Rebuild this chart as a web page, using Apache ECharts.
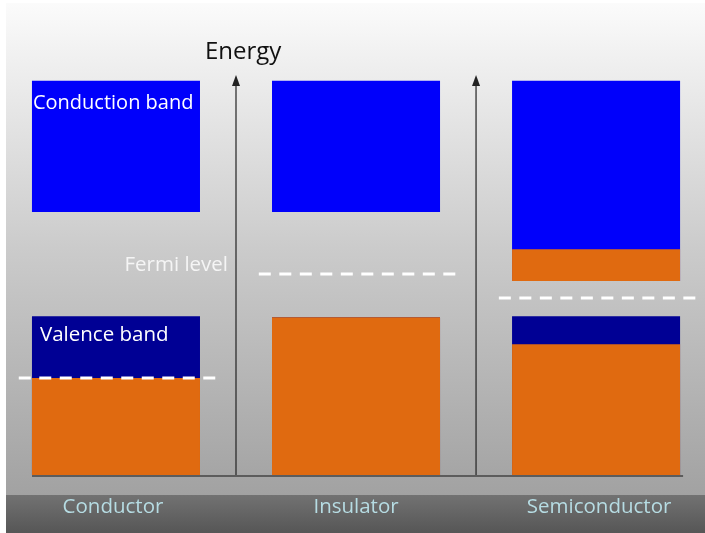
<!DOCTYPE html>
<html>
<head>
<meta charset="utf-8">
<script src="https://cdn.jsdelivr.net/npm/echarts@6/dist/echarts.min.js"></script>
<style>
  html, body { margin: 0; padding: 0; background: #fff; }
  #main { width: 705px; height: 533px; }
</style>
</head>
<body>
<div id="main"></div>
<script>
// energy in arbitrary units, 0 = bottom of the diagram
var materials = ['Conductor', 'Insulator', 'Semiconductor'];
var conductionTop = [10.0, 10.0, 10.0];
var conductionBottom = [6.67, 6.67, 4.92];
var conductionFilledTop = [null, null, 5.73];   // electrons lifted into conduction band
var valenceTop = [4.03, 4.0, 4.03];
var valenceFilledTop = [2.46, 4.0, 3.32];
var fermiLevel = [2.46, 5.1, 4.49];
var arrowTop = 10.15;

var BAND_W = 0.70;
var FERMI_W = 0.83;

var dom = document.getElementById('main');
var myChart = echarts.init(dom);

function rect(api, xc, y0, y1, w, color) {
  var a = api.coord([xc - w / 2, y1]);
  var b = api.coord([xc + w / 2, y0]);
  return {
    type: 'rect',
    shape: { x: a[0], y: a[1], width: b[0] - a[0], height: b[1] - a[1] },
    style: { fill: color }
  };
}

var bandData = materials.map(function (m, i) { return [i]; });

var option = {
  animation: false,
  graphic: [
    {
      type: 'rect', z: -10, silent: true,
      shape: { x: 6, y: 3, width: 699, height: 492 },
      style: {
        fill: new echarts.graphic.LinearGradient(0, 0, 0, 1, [
          { offset: 0, color: '#fbfbfb' },
          { offset: 0.5, color: '#cbcbcb' },
          { offset: 1, color: '#a2a2a2' }
        ])
      }
    },
    {
      type: 'rect', z: -10, silent: true,
      shape: { x: 6, y: 495, width: 699, height: 38 },
      style: {
        fill: new echarts.graphic.LinearGradient(0, 0, 0, 1, [
          { offset: 0, color: '#727272' },
          { offset: 1, color: '#565656' }
        ])
      }
    },
    {
      type: 'text', left: 205, top: 40,
      style: { text: 'Energy', font: '24px "Open Sans"', fill: '#111' }
    }
  ],
  grid: { left: 7, right: 5, top: 2, bottom: 58 },
  xAxis: { type: 'value', min: 0.046, max: 2.933, show: false },
  yAxis: { type: 'value', min: 0, max: 12, show: false },
  series: [
    {
      type: 'custom',
      name: 'bands',
      data: bandData,
      renderItem: function (params, api) {
        var i = api.value(0);
        var xc = i + 0.5;
        var kids = [];
        kids.push(rect(api, xc, conductionBottom[i], conductionTop[i], BAND_W, '#0000fb'));
        if (conductionFilledTop[i] != null) {
          kids.push(rect(api, xc, conductionBottom[i], conductionFilledTop[i], BAND_W, '#e06a10'));
        }
        kids.push(rect(api, xc, 0, valenceTop[i], BAND_W, '#000094'));
        kids.push(rect(api, xc, 0, valenceFilledTop[i], BAND_W, '#e06a10'));
        // fermi level
        var f0 = api.coord([xc + 0.01 - FERMI_W / 2, fermiLevel[i]]);
        var f1 = api.coord([xc + 0.01 + FERMI_W / 2, fermiLevel[i]]);
        kids.push({
          type: 'line',
          shape: { x1: f0[0], y1: f0[1], x2: f1[0], y2: f1[1] },
          style: { stroke: '#ffffff', lineWidth: 3, lineDash: [12, 8.5] }
        });
        // material label
        var p = api.coord([xc, 0]);
        kids.push({
          type: 'text',
          x: p[0] + (i - 1) * 3, y: p[1] + 32,
          style: {
            text: materials[i], font: '20.5px "Open Sans"', fill: '#b6dce3',
            align: 'center', verticalAlign: 'middle'
          }
        });
        return { type: 'group', children: kids };
      }
    },
    {
      type: 'custom',
      name: 'axes',
      data: [[1], [2]],
      renderItem: function (params, api) {
        var x = api.value(0);
        var b = api.coord([x, 0]);
        var t = api.coord([x, arrowTop]);
        return {
          type: 'group',
          children: [
            {
              type: 'line',
              shape: { x1: b[0], y1: b[1], x2: t[0], y2: t[1] + 8 },
              style: { stroke: '#222', lineWidth: 1.2 }
            },
            {
              type: 'polygon',
              shape: { points: [[t[0], t[1]], [t[0] - 4, t[1] + 11], [t[0] + 4, t[1] + 11]] },
              style: { fill: '#222' }
            }
          ]
        };
      }
    },
    {
      type: 'custom',
      name: 'baseline',
      data: [[0]],
      renderItem: function (params, api) {
        var a = api.coord([0.5 - BAND_W / 2, 0]);
        var b = api.coord([2.5 + BAND_W / 2, 0]);
        return {
          type: 'line',
          z2: -1,
          shape: { x1: a[0], y1: a[1] + 1, x2: b[0] + 3, y2: b[1] + 1 },
          style: { stroke: '#444', lineWidth: 1.5 }
        };
      }
    },
    {
      type: 'custom',
      name: 'notes',
      data: [[0]],
      renderItem: function (params, api) {
        var c = api.coord([0.5 - BAND_W / 2, conductionTop[0]]);
        var f = api.coord([0.5 + BAND_W / 2, fermiLevel[1]]);
        var v = api.coord([0.5 - BAND_W / 2, valenceTop[0]]);
        return {
          type: 'group',
          children: [
            { type: 'text', x: c[0] + 1, y: c[1] + 22,
              style: { text: 'Conduction band', font: '20px "Open Sans"', fill: '#fff', verticalAlign: 'middle' } },
            { type: 'text', x: f[0] + 28, y: f[1] - 9,
              style: { text: 'Fermi level', font: '20.5px "Open Sans"', fill: '#f5f5f5', align: 'right', verticalAlign: 'middle' } },
            { type: 'text', x: v[0] + 8, y: v[1] + 19,
              style: { text: 'Valence band', font: '20.5px "Open Sans"', fill: '#fff', verticalAlign: 'middle' } }
          ]
        };
      }
    }
  ]
};

myChart.setOption(option);
</script>
</body>
</html>
